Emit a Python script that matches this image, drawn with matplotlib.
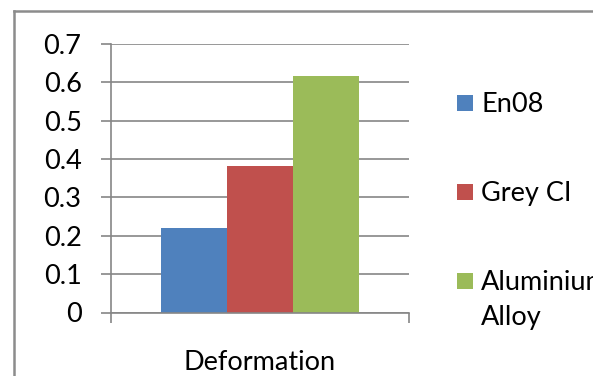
import matplotlib.pyplot as plt
from matplotlib.patches import Rectangle
from matplotlib.lines import Line2D

# Data
category = "Deformation"
series = ["En08", "Grey CI", "Aluminium\nAlloy"]
values = [0.22, 0.383, 0.617]
colors = ["#4F81BD", "#C0504D", "#9BBB59"]
yticks = [0, 0.1, 0.2, 0.3, 0.4, 0.5, 0.6, 0.7]

plt.rcParams['font.family'] = ['Lato', 'DejaVu Sans']
W, H = 606, 376
FS = 19.5
grid_col = "#868686"

fig = plt.figure(figsize=(W / 100, H / 100), dpi=100)
fig.patch.set_facecolor("white")

# plot area in pixels: x 111..409, y 44..312.5
x0, x1, y0, y1 = 111, 409, 44, 312.5
ax = fig.add_axes([x0 / W, 1 - y1 / H, (x1 - x0) / W, (y1 - y0) / H])

bar_w = 66.3 / (x1 - x0)
for i, (name, v, c) in enumerate(zip(series, values, colors)):
    ax.bar((i - 1) * bar_w, v, width=bar_w, color=c, zorder=3, linewidth=0)

ax.set_xlim(-0.5, 0.5)
ax.set_ylim(0, 0.7)
ax.set_yticks(yticks)
ax.set_yticklabels([f"{t:g}" for t in yticks])
ax.set_xticks([-0.5, 0.5])
ax.set_xticklabels([])
ax.yaxis.grid(True, color=grid_col, linewidth=1.2, zorder=0)
ax.set_axisbelow(True)
for s in ["top", "right"]:
    ax.spines[s].set_visible(False)
for s in ["left", "bottom"]:
    ax.spines[s].set_color(grid_col)
    ax.spines[s].set_linewidth(1.2)
    ax.spines[s].set_zorder(4)
ax.tick_params(axis="y", length=7.2, width=1.2, color=grid_col, pad=14, labelsize=FS)
ax.tick_params(axis="x", length=7.2, width=1.2, color=grid_col)

# category label under the axis
fig.text((x0 + x1) / 2 / W, 1 - 370 / H, category, fontsize=FS, ha="center", va="baseline")

# legend
baselines = [112, 201, 290]
line_step = 35
for name, c, yb in zip(series, colors, baselines):
    fig.add_artist(Rectangle((457 / W, 1 - (yb - 1) / H), 16 / W, 16 / H,
                             transform=fig.transFigure, facecolor=c, edgecolor="none"))
    for k, part in enumerate(name.split("\n")):
        fig.text(481 / W, 1 - (yb + k * line_step) / H, part, fontsize=FS,
                 ha="left", va="baseline")

# chart frame
fig.add_artist(Line2D([14 / W, 592 / W], [1 - 10.5 / H, 1 - 10.5 / H],
                      transform=fig.transFigure, color="#8C8C8C", linewidth=1.8))
fig.add_artist(Line2D([14 / W, 14 / W], [1 - 10.5 / H, 0],
                      transform=fig.transFigure, color="#8C8C8C", linewidth=1.8))
# frame edge cuts the legend text
fig.add_artist(Rectangle((592.5 / W, 0), (W - 592.5) / W, 1, transform=fig.transFigure,
                         facecolor="white", edgecolor="none", zorder=10))

fig.savefig("out.png", dpi=100)
